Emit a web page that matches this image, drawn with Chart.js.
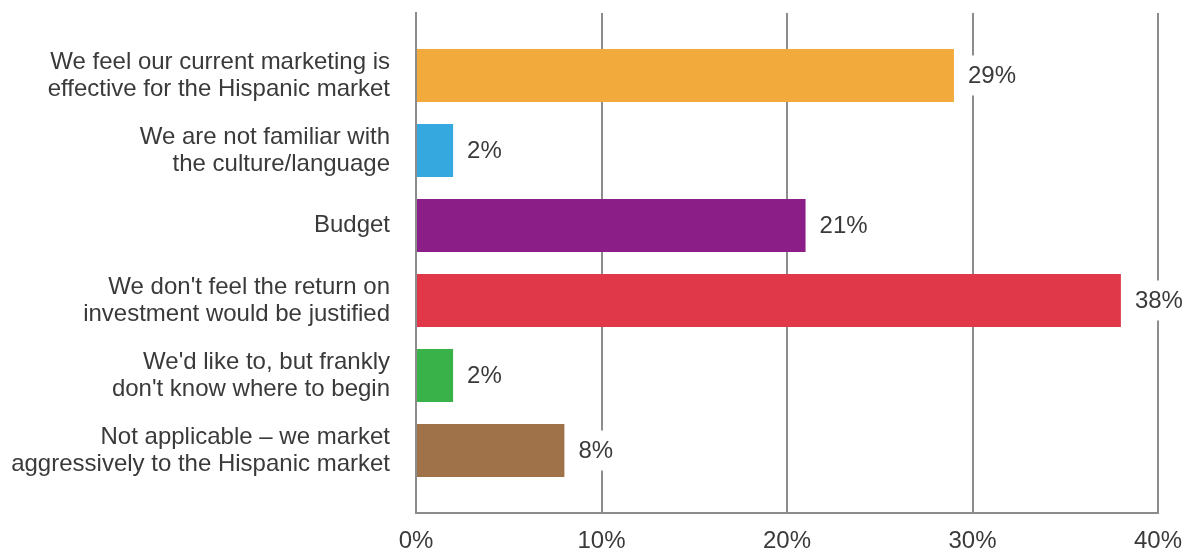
<!DOCTYPE html>
<html>
<head>
<meta charset="utf-8">
<script src="https://cdn.jsdelivr.net/npm/chart.js@4/dist/chart.umd.min.js"></script>
<style>
  html, body { margin: 0; padding: 0; background: #fff; }
  #wrap { width: 1197px; height: 550px; }
</style>
</head>
<body>
<div id="wrap"><canvas id="bars" width="1197" height="550"></canvas></div>
<script>
// reasons given, one label per bar (multi-line labels as arrays)
const reasons = [
    ['We feel our current marketing is', 'effective for the Hispanic market'],
    ['We are not familiar with', 'the culture/language'],
    'Budget',
    ['We don\'t feel the return on', 'investment would be justified'],
    ['We\'d like to, but frankly', 'don\'t know where to begin'],
    ['Not applicable \u2013 we market', 'aggressively to the Hispanic market']
];
const shares = [29, 2, 21, 38, 2, 8];
const barColors = ['#F2AA3C', '#35A8DF', '#8B1F87', '#E03848', '#3AB24A', '#A0724A'];
const xTicks = [0, 10, 20, 30, 40];

const FONT = 'Liberation Sans, Arial, Helvetica, sans-serif';
const TEXT = '#3a3a3a';
const GRID = '#8c8c8c';

// percentage next to each bar, on a white patch so the gridlines break behind it
const valueLabels = {
    id: 'valueLabels',
    afterDatasetsDraw(chart) {
        const ctx = chart.ctx;
        const meta = chart.getDatasetMeta(0);
        ctx.save();
        ctx.font = '24px ' + FONT;
        ctx.textBaseline = 'middle';
        ctx.textAlign = 'left';
        meta.data.forEach((bar, i) => {
            const txt = shares[i] + '%';
            const w = ctx.measureText(txt).width;
            const x = bar.x + 14;
            ctx.fillStyle = '#fff';
            ctx.fillRect(x - 5, bar.y - 20, w + 10, 40);
            ctx.fillStyle = TEXT;
            ctx.fillText(txt, x, bar.y + 1);
        });
        ctx.restore();
    }
};

const ctx = document.getElementById('bars').getContext('2d');
new Chart(ctx, {
    type: 'bar',
    data: {
        datasets: [{
            data: shares.map((v, i) => ({x: v, y: i})),
            backgroundColor: barColors,
            borderWidth: 0,
            categoryPercentage: 0.8,
            barPercentage: 0.88
        }]
    },
    options: {
        indexAxis: 'y',
        responsive: false,
        animation: false,
        layout: { padding: { top: 13, right: 39, left: 0, bottom: 0 } },
        plugins: {
            legend: { display: false },
            tooltip: { enabled: false }
        },
        scales: {
            x: {
                type: 'linear',
                min: xTicks[0],
                max: xTicks[xTicks.length - 1],
                afterBuildTicks: scale => { scale.ticks = xTicks.map(v => ({value: v})); },
                grid: { color: GRID, lineWidth: 2, drawTicks: false },
                border: { display: true, color: GRID, width: 2 },
                ticks: {
                    color: TEXT,
                    font: { family: FONT, size: 24 },
                    padding: 14,
                    maxRotation: 0,
                    callback: v => v + '%'
                },
                afterFit: scale => {
                    scale.height = 37;
                    scale.paddingLeft = 0;
                    scale.paddingRight = 0;
                }
            },
            y: {
                type: 'linear',
                reverse: true,
                offset: false,
                bounds: 'data',
                min: -0.833,
                max: reasons.length - 0.167,
                afterBuildTicks: scale => { scale.ticks = reasons.map((r, i) => ({value: i})); },
                grid: { display: false, drawTicks: false, offset: false },
                border: { display: true, color: GRID, width: 2 },
                ticks: {
                    color: TEXT,
                    font: { family: FONT, size: 24, lineHeight: 1.13 },
                    padding: 26,
                    callback: v => reasons[v]
                },
                afterFit: scale => {
                    scale.width = 416;
                    scale.paddingTop = 0;
                    scale.paddingBottom = 0;
                }
            }
        }
    },
    plugins: [valueLabels]
});
</script>
</body>
</html>
